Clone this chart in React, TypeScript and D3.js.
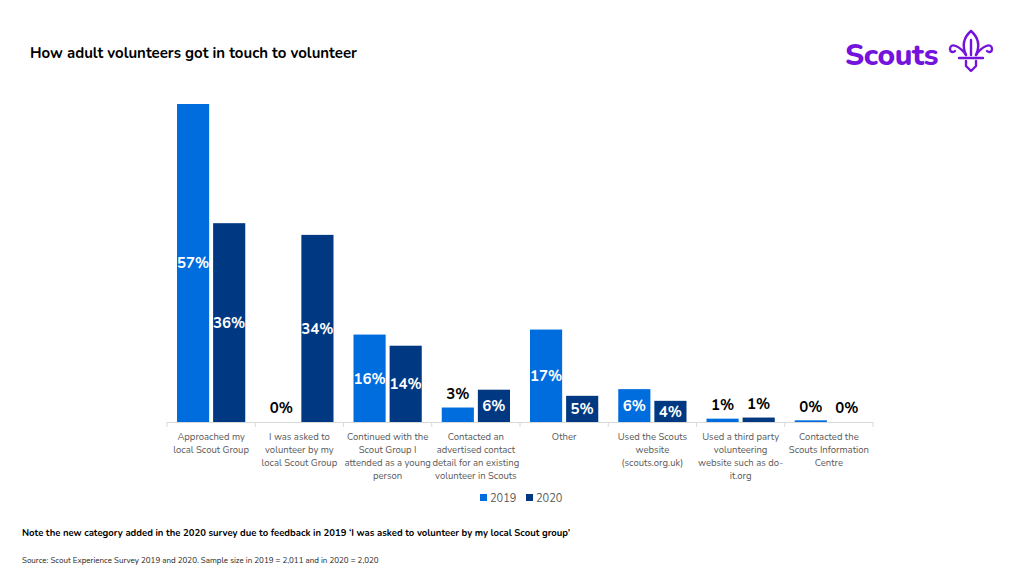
import React from "react";
import * as d3 from "d3";

const categories: string[][] = [
  ["Approached my", "local Scout Group"],
  ["I was asked to", "volunteer by my", "local Scout Group"],
  ["Continued with the", "Scout Group I", "attended as a young", "person"],
  ["Contacted an", "advertised contact", "detail for an existing", "volunteer in Scouts"],
  ["Other"],
  ["Used the Scouts", "website", "(scouts.org.uk)"],
  ["Used a third party", "volunteering", "website such as do-", "it.org"],
  ["Contacted the", "Scouts Information", "Centre"],
];
const values2019 = [57.1, 0, 15.7, 2.6, 16.6, 5.9, 0.6, 0.3];
const values2020 = [35.7, 33.6, 13.7, 5.8, 4.7, 3.8, 0.8, 0];
const seriesNames = ["2019", "2020"];
const seriesColors = ["#006ddf", "#003982"];

const FONT = "Nunito, Lato, 'Open Sans', sans-serif";

export default function App() {
  const W = 1024, H = 576;
  const x0 = 167, x1 = 873, baseY = 422;
  const x = d3.scaleBand<number>().domain(d3.range(categories.length)).range([x0, x1]).paddingInner(0).paddingOuter(0);
  const xs = d3.scaleBand<number>().domain([0, 1]).range([10, x.bandwidth() - 10]).paddingInner(0.11).paddingOuter(0);
  const y = d3.scaleLinear().domain([0, 57.1]).range([baseY, 104]);
  const series = [values2019, values2020];

  return (
    <svg width={W} height={H} style={{ position: "absolute", left: 0, top: 0, background: "#fff" }} fontFamily={FONT}>
      <rect width={W} height={H} fill="#fff" />
      <text x={30} y={58} fontSize={15} fontWeight={700} fill="#000">How adult volunteers got in touch to volunteer</text>

      {/* Logo */}
      <text x={845} y={65} fontSize={30} fontWeight={800} fill="#7413dc" letterSpacing={-0.4}>Scouts</text>
      <g fill="none" stroke="#7413dc" strokeWidth={2.4} strokeLinecap="round" strokeLinejoin="round">
        <path d="M971,31 C963,38 962,46 966,55 M971,31 C979,38 980,46 976,55" />
        <path d="M966,55 C960,46 950,42 950,49 C950,52 953,53 955,51" />
        <path d="M976,55 C982,46 992,42 992,49 C992,52 989,53 987,51" />
        <path d="M959,58 L983,58" />
        <path d="M966,61 L966,66 L971,71 L976,66 L976,61" />
        <path d="M971,40 L971,55" />
      </g>

      {/* bars */}
      {categories.map((_, i) =>
        series.map((vals, s) => {
          const v = vals[i];
          const bx = (x(i) as number) + (xs(s) as number);
          const bw = xs.bandwidth();
          const top = y(v);
          const h = baseY - top;
          const inside = h > 20;
          const label = `${Math.round(v)}%`;
          return (
            <g key={`${i}-${s}`}>
              {h > 0 && <rect x={bx} y={top} width={bw} height={h} fill={seriesColors[s]} />}
              <text
                x={bx + bw / 2}
                y={inside ? (top + baseY) / 2 : top - 14}
                dy="0.35em"
                textAnchor="middle"
                fontSize={15}
                fontWeight={700}
                fill={inside ? "#fff" : "#000"}
              >
                {label}
              </text>
            </g>
          );
        })
      )}

      {/* axis */}
      <line x1={x0} x2={x1} y1={baseY + 0.5} y2={baseY + 0.5} stroke="#d9d9d9" strokeWidth={1} />
      {d3.range(categories.length + 1).map((i) => {
        const tx = x0 + i * x.bandwidth();
        return <line key={i} x1={tx} x2={tx} y1={baseY} y2={baseY + 5} stroke="#d9d9d9" />;
      })}
      {categories.map((lines, i) => (
        <text key={i} x={(x(i) as number) + x.bandwidth() / 2} y={440} textAnchor="middle" fontSize={9.5} fill="#595959">
          {lines.map((l, j) => (
            <tspan key={j} x={(x(i) as number) + x.bandwidth() / 2} dy={j === 0 ? 0 : 13}>{l}</tspan>
          ))}
        </text>
      ))}

      {/* legend */}
      {seriesNames.map((n, s) => {
        const lx = 480 + s * 46;
        return (
          <g key={n}>
            <rect x={lx} y={494} width={7} height={7} fill={seriesColors[s]} />
            <text x={lx + 10} y={502} fontSize={11} fill="#595959">{n}</text>
          </g>
        );
      })}

      <text x={22} y={536} fontSize={9.5} fontWeight={700} fill="#000">
        Note the new category added in the 2020 survey due to feedback in 2019  ‘I was asked to volunteer by my local Scout group’
      </text>
      <text x={22} y={563} fontSize={8} fill="#222">
        Source: Scout Experience Survey 2019 and 2020. Sample size in 2019 = 2,011 and in 2020 = 2,020
      </text>
    </svg>
  );
}
